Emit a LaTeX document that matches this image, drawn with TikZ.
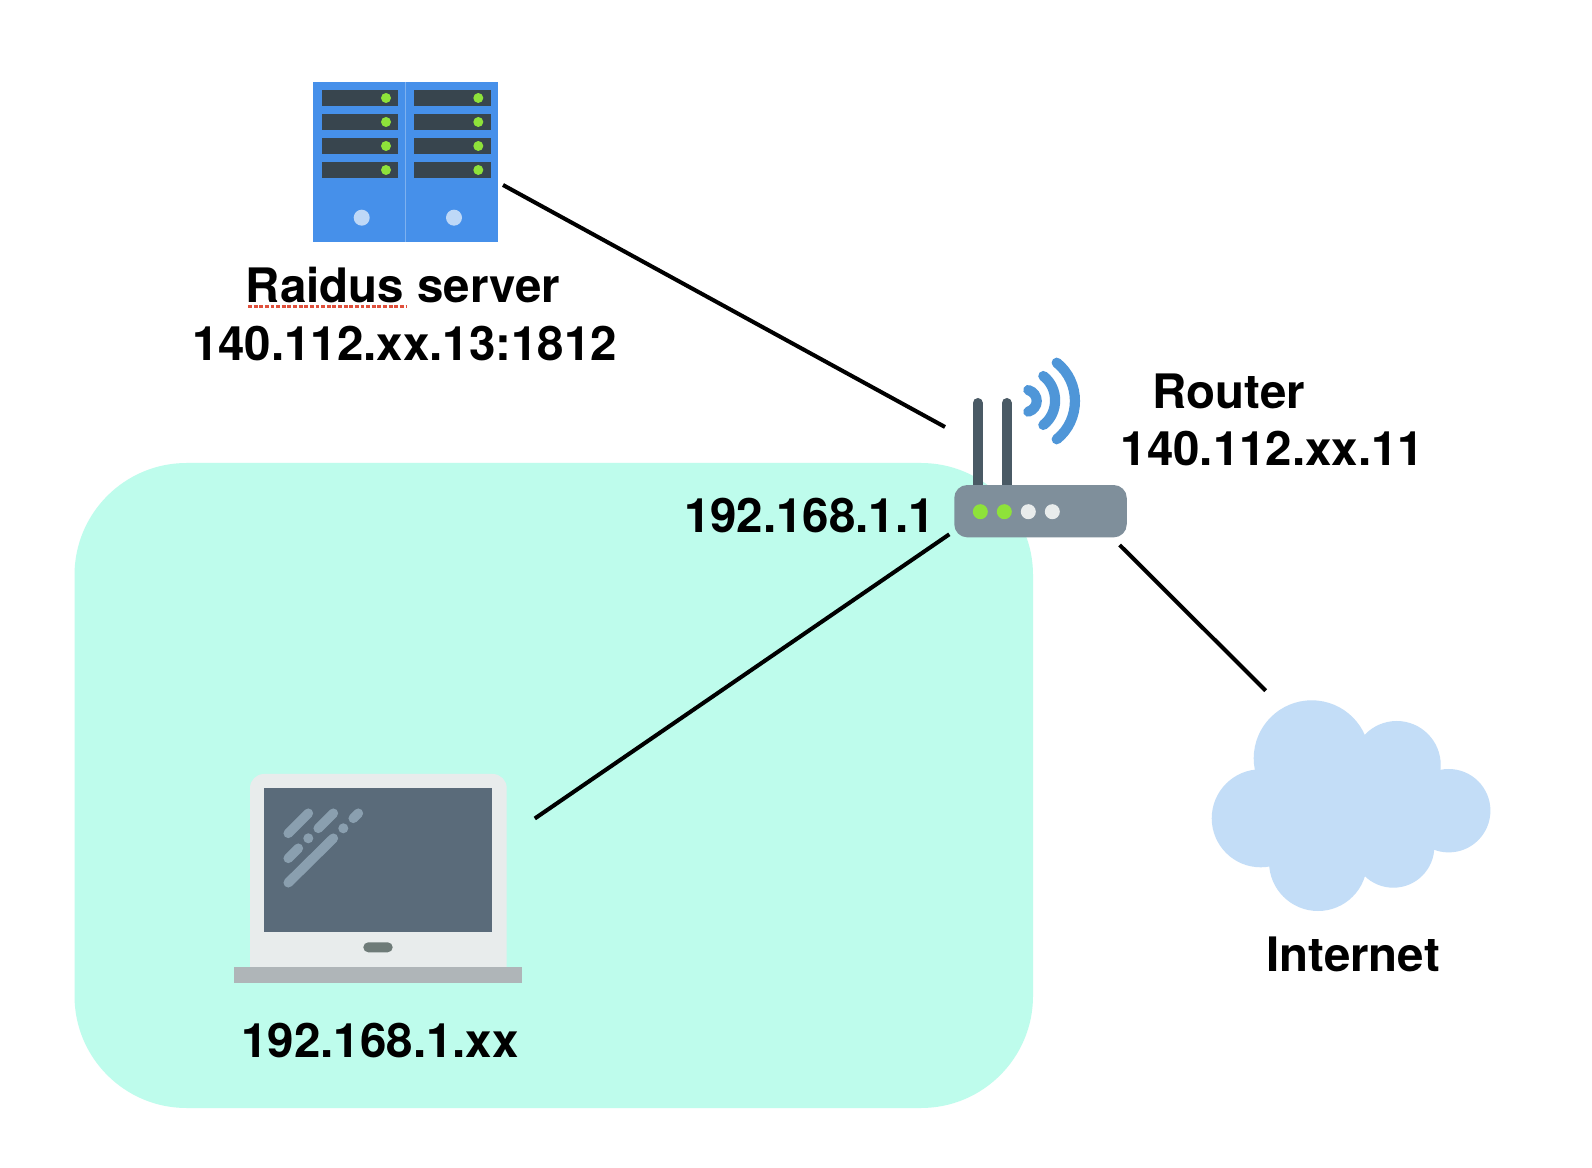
\documentclass[tikz,border=0pt]{standalone}
\usepackage{fontspec}
\setmainfont{TeX Gyre Heros}
\usepackage{xcolor}
\usetikzlibrary{arrows.meta,positioning,shapes}

\definecolor{zonegreen}{HTML}{BEFCEC}
\definecolor{serverblue}{HTML}{4690EA}
\definecolor{serverbar}{HTML}{38454E}
\definecolor{ledgreen}{HTML}{8EE23A}
\definecolor{routergrey}{HTML}{7F8F9B}
\definecolor{antennagrey}{HTML}{4A5A65}
\definecolor{wifiblue}{HTML}{4F96D8}
\definecolor{lidgrey}{HTML}{E8ECEC}
\definecolor{screengrey}{HTML}{5A6B7A}
\definecolor{shinegrey}{HTML}{8A9FAF}
\definecolor{basegrey}{HTML}{AFB5B8}
\definecolor{padgrey}{HTML}{6E7B78}
\definecolor{cloudblue}{HTML}{C3DDF7}
\definecolor{spellred}{HTML}{E0503C}

\tikzset{
  iconbox/.style={inner sep=0pt, outer sep=0pt},
  lbl/.style={anchor=base, inner sep=0pt, font=\fontsize{13.5}{16}\selectfont\bfseries},
  wire/.style={draw=black, line width=1.15pt},
  wifi/.style={draw=wifiblue, line width=2.9pt, line cap=round},
}

\begin{document}
\begin{tikzpicture}[x=0.01cm, y=-0.01cm]
\useasboundingbox(0, 0) rectangle (1592, 1168);
\fill[white](0, 0) rectangle (1592, 1168);
\fill[zonegreen, rounded corners=1.12cm](74.5, 463) rectangle (1033, 1108);

\node[iconbox, minimum width=1.845cm, minimum height=1.6cm, fill=serverblue] (server) at (405.7, 162) {};
\draw[white, opacity=0.3, line width=0.4pt](405.7, 82) -- (405.7, 242);
\foreach \x in {321.7, 414} {
  \foreach \y in {90, 114, 138, 162} {
    \fill[serverbar](\x, \y) rectangle +(76.5, 16);
    \fill[ledgreen](\x + 64.3, \y + 8) circle (5);
  }
  \fill[white, opacity=0.65](\x + 40, 217.7) circle (8);
}

\foreach \x in {977.7, 1006.7} {
  \draw[antennagrey, line width=2.84pt, line cap=round](\x, 403) -- (\x, 490);
}
\node[iconbox, minimum width=1.724cm, minimum height=0.523cm, rounded corners=0.13cm, fill=routergrey] (router) at (1040.5, 511.2) {};
\foreach \x/\c in {980.3/ledgreen, 1004.3/ledgreen, 1028.3/lidgrey, 1052.3/lidgrey} {
  \fill[\c](\x, 511.7) circle (7.5);
}
\draw[wifi](1028.3, 390) .. controls (1039.5, 394) and (1039.5, 408) .. (1028.3, 411.7);
\draw[wifi](1043.3, 376) .. controls (1059, 388) and (1059, 413) .. (1043.3, 425);
\draw[wifi](1056.7, 362.7) .. controls (1081, 382) and (1081, 420) .. (1056.7, 439.3);

\fill[lidgrey, rounded corners=0.14cm](250, 980) -- (250, 774) -- (506.7, 774) -- (506.7, 980) -- cycle;
\node[iconbox, minimum width=2.28cm, minimum height=1.44cm, fill=screengrey] (laptop) at (378, 860.3) {};
\fill[basegrey](234, 967) rectangle (522, 983);
\fill[padgrey, rounded corners=0.05cm](363.3, 942.3) rectangle (392.7, 952.3);
\foreach \a/\b/\c/\d in {288.3/833.3/308.3/813.3, 318.3/828.3/333.3/813.3, 353.3/818.3/358.3/813.3, 288.3/858.3/298.3/848.3, 288.3/882.7/333.3/838.3} {
  \draw[shinegrey, line width=2.75pt, line cap=round](\a, \b) -- (\c, \d);
}
\fill[shinegrey](308.3, 838.3) circle (5);
\fill[shinegrey](343.3, 828.3) circle (5);

\fill[cloudblue](1311.7, 758.3) circle (58);
\fill[cloudblue](1396.7, 765) circle (44);
\fill[cloudblue](1448.7, 810.7) circle (41.7);
\fill[cloudblue](1260.7, 818.3) circle (49);
\fill[cloudblue](1318, 862) circle (49);
\fill[cloudblue](1393.3, 846.7) circle (41);
\fill[cloudblue](1290, 770) rectangle (1420, 850);
\coordinate (cloud) at (1265.7, 690.7);

\coordinate (serverport) at (503, 185);
\coordinate (routerwan) at (945, 427);
\coordinate (routerlan) at (949.3, 534.3);
\coordinate (laptopport) at (534.8, 818.5);
\coordinate (routerout) at (1119.6, 545);
\draw[wire](serverport) -- (routerwan);
\draw[wire](routerlan) -- (laptopport);
\draw[wire](routerout) -- (cloud);

\node[lbl] (serverlbl) at (403, 303) {Raidus server};
\node[lbl] (serverip) at (404.5, 361) {140.112.xx.13:1812};
\node[lbl] (routerlbl) at (1229, 409) {Router};
\node[lbl] (routerip) at (1272.5, 466) {140.112.xx.11};
\node[lbl] (gatewayip) at (809.5, 533) {192.168.1.1};
\node[lbl] (laptopip) at (380, 1057) {192.168.1.xx};
\node[lbl] (cloudlbl) at (1353, 971) {Internet};
\draw[spellred, line width=0.8pt, dash pattern=on 1.1pt off 0.5pt](248, 306.5) -- (406, 306.5);
\end{tikzpicture}
\end{document}
